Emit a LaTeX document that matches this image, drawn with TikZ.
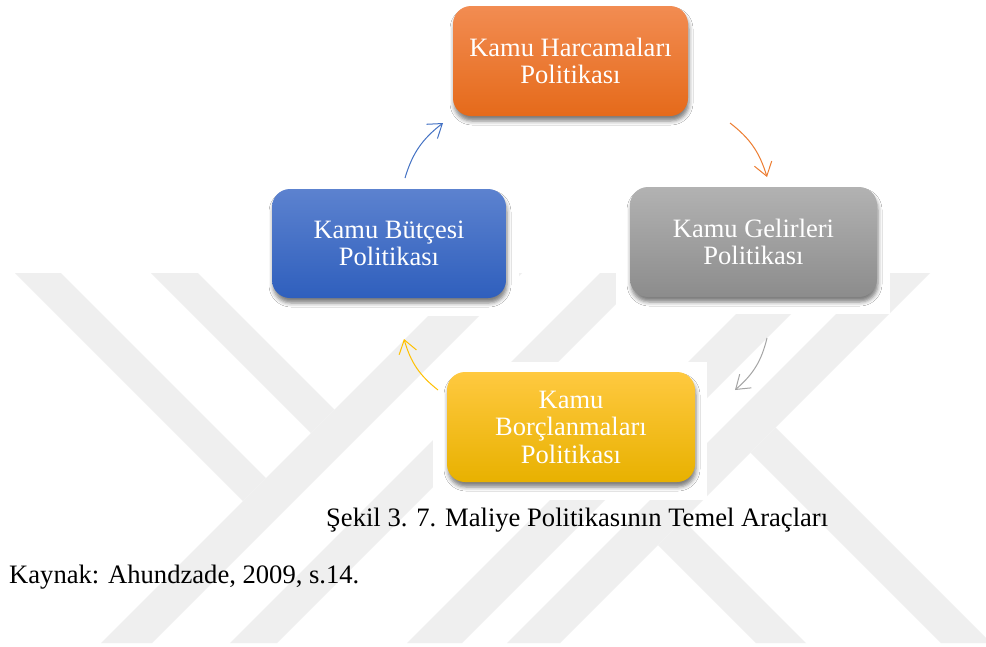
\documentclass[tikz,border=0pt]{standalone}
\usepackage{fontspec}
\setmainfont{Liberation Serif}
\usetikzlibrary{arrows.meta,shadows.blur,bending}
\definecolor{wm}{RGB}{239,239,239}
\definecolor{orTop}{RGB}{242,140,82}
\definecolor{orBot}{RGB}{229,106,26}
\definecolor{grTop}{RGB}{178,178,178}
\definecolor{grBot}{RGB}{140,140,140}
\definecolor{blTop}{RGB}{92,130,207}
\definecolor{blBot}{RGB}{47,95,189}
\definecolor{yeTop}{RGB}{255,201,64}
\definecolor{yeMid}{RGB}{255,192,0}
\definecolor{yeBot}{RGB}{232,177,0}
\definecolor{arBlue}{RGB}{68,114,196}
\definecolor{arOrange}{RGB}{237,125,49}
\definecolor{arGray}{RGB}{165,165,165}
\definecolor{arYellow}{RGB}{255,192,0}
\begin{document}
\begin{tikzpicture}[x=1pt,y=1pt,
  box/.style={rounded corners=18pt, align=center, text=white, inner sep=0pt,
    font=\fontsize{26.5}{27.5}\selectfont,
    blur shadow={shadow xshift=1pt, shadow yshift=-5pt, shadow blur radius=4pt, shadow opacity=50}},
  cyc/.style={line width=1pt, -{Straight Barb[length=13pt,width=18pt,flex]}, bend left=18},
  wmark/.style={fill=wm, draw=none},
  cover/.style={fill=white, draw=none},
  plain/.style={font=\fontsize{26.6}{30}\selectfont, inner sep=0pt, anchor=base west}
]
\useasboundingbox (0,0) rectangle (986,-646);
\fill[white] (0,0) rectangle (986,-646);
% watermark
\fill[wmark] (15,-273) -- (61,-273) -- (266,-478) -- (243,-501) -- cycle;
\fill[wmark] (151,-273) -- (198,-273) -- (334.5,-409.5) -- (311,-433) -- cycle;
\fill[wmark] (471,-273) -- (522,-273) -- (152,-643) -- (101,-643) -- cycle;
\fill[wmark] (600,-273) -- (647,-273) -- (277,-643) -- (230,-643) -- cycle;
\fill[wmark] (777,-273) -- (832,-273) -- (462,-643) -- (407,-643) -- cycle;
\fill[wmark] (877,-273) -- (930,-273) -- (560,-643) -- (507,-643) -- cycle;
\fill[wmark] (775.5,-427.5) -- (986,-638) -- (986,-643) -- (941,-643) -- (750.5,-452.5) -- cycle;
\fill[wmark] (683,-520) -- (806,-643) -- (756,-643) -- (658,-545) -- cycle;
% white backgrounds behind boxes
\fill[cover] (260,-170) rectangle (519,-316);
\fill[cover] (616,-170) rectangle (890,-314);
\fill[cover] (433,-362) rectangle (707,-500);
% boxes
\node[box, minimum width=235pt, minimum height=110pt, top color=orTop, bottom color=orBot]
  (harc) at (570.5,-61) {Kamu Harcamaları\\Politikası};
\node[box, minimum width=247pt, minimum height=110pt, top color=grTop, bottom color=grBot]
  (gel) at (753.5,-242) {Kamu Gelirleri\\Politikası};
\node[box, minimum width=234pt, minimum height=109pt, top color=blTop, bottom color=blBot]
  (but) at (389,-243.5) {Kamu Bütçesi\\Politikası};
\node[box, minimum width=248pt, minimum height=110pt, top color=yeTop, middle color=yeMid, bottom color=yeBot]
  (borc) at (571,-427) {Kamu\\Borçlanmaları\\Politikası};
% arrows
\coordinate (bS) at (405,-178); \coordinate (bE) at (443,-123);
\coordinate (oS) at (730,-123); \coordinate (oE) at (767,-177);
\coordinate (gS) at (767,-338); \coordinate (gE) at (735,-390);
\coordinate (yS) at (438,-390); \coordinate (yE) at (404,-339);
\draw[cyc, arBlue] (bS) to (bE);
\draw[cyc, arOrange] (oS) to (oE);
\draw[cyc, arGray] (gS) to (gE);
\draw[cyc, arYellow] (yS) to (yE);
% texts
\node[plain] (cap) at (326,-526) {Şekil 3. 7. Maliye Politikasının Temel Araçları};
\node[plain] (src) at (9,-583) {Kaynak: Ahundzade, 2009, s.14.};
\end{tikzpicture}
\end{document}
